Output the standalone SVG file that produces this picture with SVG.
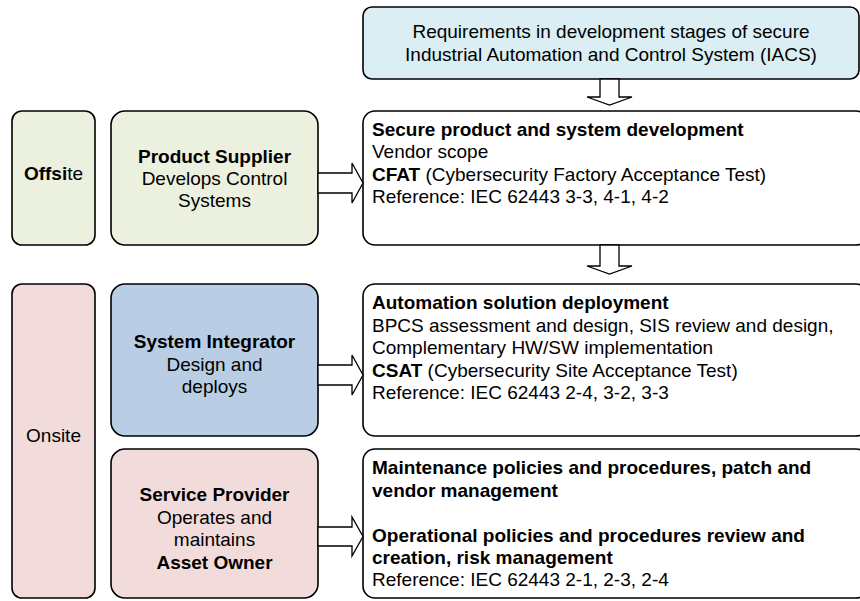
<svg xmlns="http://www.w3.org/2000/svg" width="860" height="601" viewBox="0 0 860 601">
<style>
.box{stroke:#000;stroke-width:1.6}
.t{font-family:"Liberation Sans",Arial,sans-serif;font-size:19px;fill:#000}
.c{text-anchor:middle}
.b{font-weight:bold}
.arr{fill:#fff;stroke:#000;stroke-width:1.3;stroke-linejoin:miter}
</style>
<rect width="860" height="601" fill="#fff"/>
<g id="req">
<rect class="box" x="363" y="7" width="496" height="72" rx="9" fill="#DAEEF3"/>
<text class="t c" x="611" y="38">Requirements in development stages of secure</text>
<text class="t c" x="611" y="61">Industrial Automation and Control System (IACS)</text>
</g>
<g id="offsite">
<rect class="box" x="12" y="111" width="83" height="134" rx="10" fill="#EBF1DE"/>
<text class="t c" x="53.5" y="180"><tspan class="b">Offsi</tspan>te</text>
</g>
<g id="supplier">
<rect class="box" x="111" y="111" width="207" height="134" rx="14" fill="#EBF1DE"/>
<text class="t c b" x="214.5" y="163">Product Supplier</text>
<text class="t c" x="214.5" y="185">Develops Control</text>
<text class="t c" x="214.5" y="207">Systems</text>
</g>
<g id="secure">
<rect class="box" x="363" y="111" width="505" height="134" rx="12" fill="#fff"/>
<text class="t b" x="372" y="136">Secure product and system development</text>
<text class="t" x="372" y="158">Vendor scope</text>
<text class="t" x="372" y="181"><tspan class="b">CFAT</tspan> (Cybersecurity Factory Acceptance Test)</text>
<text class="t" x="372" y="203">Reference: IEC 62443 3-3, 4-1, 4-2</text>
</g>
<g id="onsite">
<rect class="box" x="12" y="284" width="83" height="314" rx="10" fill="#F2DCDB"/>
<text class="t c" x="53.5" y="442">Onsite</text>
</g>
<g id="integrator">
<rect class="box" x="111" y="284" width="207" height="152" rx="14" fill="#B9CDE5"/>
<text class="t c b" x="214.5" y="348">System Integrator</text>
<text class="t c" x="214.5" y="371">Design and</text>
<text class="t c" x="214.5" y="393">deploys</text>
</g>
<g id="deployment">
<rect class="box" x="363" y="284" width="505" height="152" rx="12" fill="#fff"/>
<text class="t b" x="372" y="309">Automation solution deployment</text>
<text class="t" x="372" y="332">BPCS assessment and design, SIS review and design,</text>
<text class="t" x="372" y="354">Complementary HW/SW implementation</text>
<text class="t" x="372" y="377"><tspan class="b">CSAT</tspan> (Cybersecurity Site Acceptance Test)</text>
<text class="t" x="372" y="399">Reference: IEC 62443 2-4, 3-2, 3-3</text>
</g>
<g id="provider">
<rect class="box" x="111" y="449" width="207" height="149" rx="14" fill="#F2DCDB"/>
<text class="t c b" x="214.5" y="501">Service Provider</text>
<text class="t c" x="214.5" y="524">Operates and</text>
<text class="t c" x="214.5" y="546">maintains</text>
<text class="t c b" x="214.5" y="569">Asset Owner</text>
</g>
<g id="maintenance">
<rect class="box" x="363" y="449" width="505" height="149" rx="12" fill="#fff"/>
<text class="t b" x="372" y="474">Maintenance policies and procedures, patch and</text>
<text class="t b" x="372" y="497">vendor management</text>
<text class="t b" x="372" y="542">Operational policies and procedures review and</text>
<text class="t b" x="372" y="564">creation, risk management</text>
<text class="t" x="372" y="586">Reference: IEC 62443 2-1, 2-3, 2-4</text>
</g>
<g id="connectors">
<polygon class="arr" points="600,79 619,79 619,97 632,97 609.5,105 587,97 600,97"/>
<polygon class="arr" points="600,245 619,245 619,266 632,266 609.5,274 587,266 600,266"/>
<polygon class="arr" points="318,173 352,173 352,163 363,183 352,203 352,193 318,193"/>
<polygon class="arr" points="318,365 352,365 352,355 363,375 352,395 352,385 318,385"/>
<polygon class="arr" points="318,527 352,527 352,517 363,536.5 352,556 352,546 318,546"/>
</g>
</svg>
